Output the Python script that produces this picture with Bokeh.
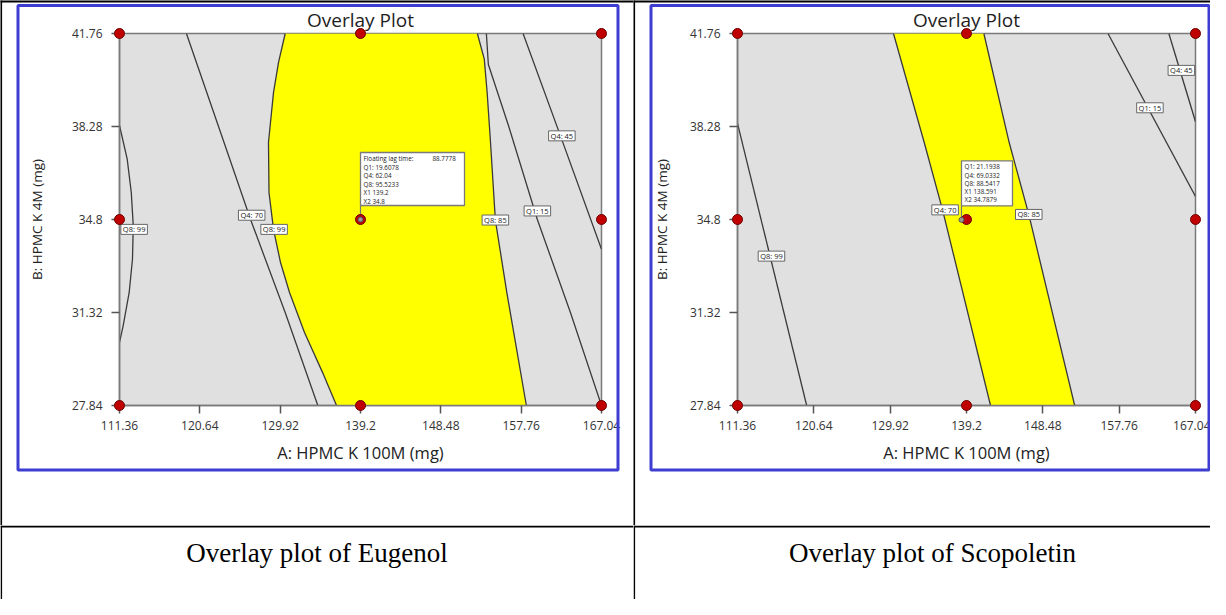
from bokeh.plotting import figure
from bokeh.layouts import column, row
from bokeh.models import Range1d, FixedTicker, Label
from bokeh.embed import file_html
from bokeh.resources import INLINE

# ---------------- data ----------------
x_lo, x_hi = 111.36, 167.04
y_lo, y_hi = 27.84, 41.76
x_ticks = [111.36, 120.64, 129.92, 139.2, 148.48, 157.76, 167.04]
x_tick_labels = ["111.36", "120.64", "129.92", "139.2", "148.48", "157.76", "167.04"]
y_ticks = [27.84, 31.32, 34.8, 38.28, 41.76]
y_tick_labels = ["27.84", "31.32", "34.8", "38.28", "41.76"]
x_title = "A: HPMC K 100M (mg)"
y_title = "B: HPMC K 4M (mg)"
plot_title = "Overlay Plot"

design_x = [111.36, 111.36, 111.36, 139.2, 139.2, 139.2, 167.04, 167.04, 167.04]
design_y = [27.84, 34.8, 41.76, 27.84, 34.8, 41.76, 27.84, 34.8, 41.76]

# Eugenol overlay
eug_q8_99_edge_x = [111.36, 112.25, 112.72, 112.95, 112.86, 112.48, 111.78, 111.36]
eug_q8_99_edge_y = [38.32, 37.06, 35.81, 34.57, 33.32, 32.07, 30.82, 30.2]
eug_q4_70_x = [119.09, 122.8, 126.5, 130.5, 134.27]
eug_q4_70_y = [41.76, 38.28, 34.8, 31.32, 27.84]
eug_q8_99_x = [130.50, 129.73, 129.15, 128.57, 128.63, 129.15, 129.96, 131.0, 132.73, 134.81, 136.43]
eug_q8_99_y = [41.76, 40.68, 39.55, 37.68, 35.81, 34.43, 33.19, 32.07, 30.57, 29.08, 27.84]
eug_q8_85_x = [152.70, 153.50, 153.83, 154.22, 154.78, 156.1, 158.36]
eug_q8_85_y = [41.76, 40.80, 39.55, 37.68, 34.78, 32.07, 27.84]
eug_q1_15_x = [153.74, 153.97, 156.3, 159.63, 163.45, 167.04]
eug_q1_15_y = [41.76, 40.6, 38.31, 34.8, 31.32, 27.84]
eug_q4_45_x = [157.98, 162.3, 167.04]
eug_q4_45_y = [41.76, 37.93, 33.69]
eug_label_text = ["Q8: 99", "Q4: 70", "Q8: 99", "Q8: 85", "Q1: 15", "Q4: 45"]
eug_label_x = [113.05, 126.63, 129.22, 154.78, 159.63, 162.46]
eug_label_y = [34.43, 34.96, 34.43, 34.78, 35.12, 37.93]
eug_flag_x, eug_flag_y = 139.2, 34.8
eug_flag_names = ["Floating lag time:", "Q1:", "Q4:", "Q8:", "X1", "X2"]
eug_flag_values = ["88.7778", "19.6078", "62.04", "95.5233", "139.2", "34.8"]

# Scopoletin overlay
sco_q8_99_x = [111.36, 119.77]
sco_q8_99_y = [38.40, 27.84]
sco_q4_70_x = [130.32, 134.06, 136.28, 142.12]
sco_q4_70_y = [41.76, 37.68, 35.17, 27.84]
sco_q8_85_x = [141.31, 144.39, 146.77, 152.35]
sco_q8_85_y = [41.76, 37.68, 34.99, 27.84]
sco_q1_15_x = [156.4, 167.04]
sco_q1_15_y = [41.76, 35.66]
sco_q4_45_x = [163.8, 167.04]
sco_q4_45_y = [41.76, 38.46]
sco_label_text = ["Q8: 99", "Q4: 70", "Q8: 85", "Q1: 15", "Q4: 45"]
sco_label_x = [115.49, 136.6, 146.77, 161.5, 165.32]
sco_label_y = [33.43, 35.16, 34.99, 38.98, 40.38]
sco_flag_x, sco_flag_y = 138.591, 34.7879
sco_flag_names = ["Q1:", "Q4:", "Q8:", "X1", "X2"]
sco_flag_values = ["21.1938", "69.0332", "88.5417", "138.591", "34.7879"]

captions = ["Overlay plot of Eugenol", "Overlay plot of Scopoletin"]

# ---------------- styling ----------------
FONT = "Open Sans"
LINE_C = "#3a3a3a"
BLUE = "#3d3dd2"
CELL_H = 525
CAP_H = 74
NB = "\u00a0"


def make_overlay(W, ml, mr, y_label_standoff, contours, band_l, band_r, lab_text, lab_x, lab_y,
                 flag, blue_right):
    H = CELL_H
    mt, mb = 33, 120
    fw = W - ml - mr
    fh = H - mt - mb
    sx = (x_hi - x_lo) / fw
    sy = (y_hi - y_lo) / fh

    def cx(px):
        return x_lo + (px - ml) * sx

    def cy(py):
        return y_lo + (H - mb - py) * sy

    p = figure(width=W, height=H, x_range=Range1d(x_lo, x_hi), y_range=Range1d(y_lo, y_hi),
               output_backend="svg", toolbar_location=None,
               min_border_left=ml, min_border_right=mr, min_border_top=mt, min_border_bottom=mb,
               background_fill_color="#e0e0e0", border_fill_color="white", title=plot_title)
    p.title.align = "center"
    p.title.text_font = FONT
    p.title.text_font_size = "19px"
    p.title.text_font_style = "normal"
    p.title.text_color = "#1e1e1e"
    p.title.standoff = 1
    p.outline_line_color = "#7a7a7a"
    p.outline_line_width = 1.5
    p.grid.visible = False

    for ax in (p.xaxis[0], p.yaxis[0]):
        ax.axis_line_color = "#7a7a7a"
        ax.axis_line_width = 1.5
        ax.major_tick_line_color = "#555555"
        ax.major_tick_line_width = 1.5
        ax.major_tick_in = 0
        ax.major_tick_out = 8
        ax.minor_tick_line_color = None
        ax.major_label_text_font = FONT
        ax.major_label_text_font_size = "12px"
        ax.major_label_text_color = "#333333"
        ax.axis_label_text_font = FONT
        ax.axis_label_text_font_style = "normal"
        ax.axis_label_text_color = "#222222"
    p.xaxis.ticker = FixedTicker(ticks=x_ticks)
    p.xaxis.major_label_overrides = dict(zip(x_ticks, x_tick_labels))
    p.yaxis.ticker = FixedTicker(ticks=y_ticks)
    p.yaxis.major_label_overrides = dict(zip(y_ticks, y_tick_labels))
    p.xaxis.axis_label = x_title
    p.yaxis.axis_label = y_title
    p.xaxis.axis_label_text_font_size = "16.5px"
    p.yaxis.axis_label_text_font_size = "13.5px"
    p.xaxis.major_label_standoff = 7
    p.yaxis.major_label_standoff = 9
    p.xaxis.axis_label_standoff = 8
    p.yaxis.axis_label_standoff = y_label_standoff

    # yellow feasible band
    bx = list(band_l[0]) + list(reversed(band_r[0]))
    by = list(band_l[1]) + list(reversed(band_r[1]))
    p.patch(bx, by, fill_color="#ffff00", line_color=None)

    for xs, ys in contours:
        p.line(xs, ys, line_color=LINE_C, line_width=1.3)

    for t, x, y in zip(lab_text, lab_x, lab_y):
        p.add_layout(Label(x=x, y=y, text=NB + t + NB, text_font=FONT, text_font_size="7.5px",
                           text_color="#222222", text_align="center", text_baseline="middle",
                           background_fill_color="white", border_line_color="#666666",
                           border_line_width=1, padding=0))

    # flag with its read-out box
    fx, fy, names, values, bw, bh, row_h, val_dx = flag
    box_b = fy + 14 * sy
    box_t = fy + (14 + bh) * sy
    p.segment(x0=[fx], y0=[fy], x1=[fx], y1=[box_b], line_color="#777777", line_width=1.2)
    p.quad(left=[fx], right=[fx + bw * sx], bottom=[box_b], top=[box_t],
           fill_color="white", line_color="#7a7a7a", line_width=1.3, level="annotation")
    for i, (n, v) in enumerate(zip(names, values)):
        yy = box_t - (6 + row_h * i) * sy
        p.add_layout(Label(x=fx + 3 * sx, y=yy, text=n, text_font=FONT, text_font_size="6.3px",
                           text_color="#222222", text_align="left", text_baseline="middle"))
        p.add_layout(Label(x=fx + val_dx[i] * sx, y=yy, text=v, text_font=FONT,
                           text_font_size="6.3px", text_color="#222222", text_align="left",
                           text_baseline="middle"))

    # design points
    p.scatter(design_x, design_y, size=10, fill_color="#c00000", line_color="#6e0000",
              line_width=1, level="overlay")
    p.scatter([fx], [fy], size=5, fill_color="#9a9a9a",
              line_color="#555555", line_width=1, level="overlay")

    # table borders and blue picture frame (pixel offsets converted to data units)
    p.quad(left=[cx(0)], right=[cx(W)], top=[cy(0)], bottom=[cy(2)],
           fill_color="black", line_color=None, level="overlay")
    p.quad(left=[cx(0)], right=[cx(1.6)], top=[cy(0)], bottom=[cy(H)],
           fill_color="black", line_color=None, level="overlay")
    p.quad(left=[cx(17.5)], right=[cx(blue_right)], top=[cy(5)], bottom=[cy(469.5)],
           fill_alpha=0, line_color=BLUE, line_width=3, level="overlay")
    return p


figL = make_overlay(
    633, 119, 32, 23,
    [(eug_q8_99_edge_x, eug_q8_99_edge_y), (eug_q4_70_x, eug_q4_70_y), (eug_q8_99_x, eug_q8_99_y),
     (eug_q8_85_x, eug_q8_85_y), (eug_q1_15_x, eug_q1_15_y), (eug_q4_45_x, eug_q4_45_y)],
    (eug_q8_99_x, eug_q8_99_y), (eug_q8_85_x, eug_q8_85_y),
    eug_label_text, eug_label_x, eug_label_y,
    (eug_flag_x, eug_flag_y, eug_flag_names, eug_flag_values, 104, 53, 8.5,
     [72, 15, 15, 15, 12, 12]),
    617.5)

figR = make_overlay(
    577, 104, 15, 16,
    [(sco_q8_99_x, sco_q8_99_y), (sco_q4_70_x, sco_q4_70_y), (sco_q8_85_x, sco_q8_85_y),
     (sco_q1_15_x, sco_q1_15_y), (sco_q4_45_x, sco_q4_45_y)],
    (sco_q4_70_x, sco_q4_70_y), (sco_q8_85_x, sco_q8_85_y),
    sco_label_text, sco_label_x, sco_label_y,
    (sco_flag_x, sco_flag_y, sco_flag_names, sco_flag_values, 51, 45, 8.2,
     [15, 15, 15, 12, 12]),
    575.5)


def make_caption(W, text, center):
    c = figure(width=W, height=CAP_H, x_range=Range1d(0, W), y_range=Range1d(CAP_H, 0),
               output_backend="svg", toolbar_location=None, min_border=0,
               x_axis_location=None, y_axis_location=None, outline_line_color=None,
               border_fill_color="white", background_fill_color="white")
    c.grid.visible = False
    c.quad(left=[0], right=[W], top=[0], bottom=[2], fill_color="black", line_color=None)
    c.quad(left=[0], right=[1.6], top=[0], bottom=[CAP_H], fill_color="black", line_color=None)
    c.add_layout(Label(x=center, y=27, text=text, text_font="Liberation Serif",
                       text_font_size="27px", text_color="black", text_align="center",
                       text_baseline="alphabetic"))
    return c


capL = make_caption(633, captions[0], 316.5)
capR = make_caption(577, captions[1], 299)

layout = column(row(figL, figR), row(capL, capR))
open("out.html", "w").write(file_html(layout, INLINE))
